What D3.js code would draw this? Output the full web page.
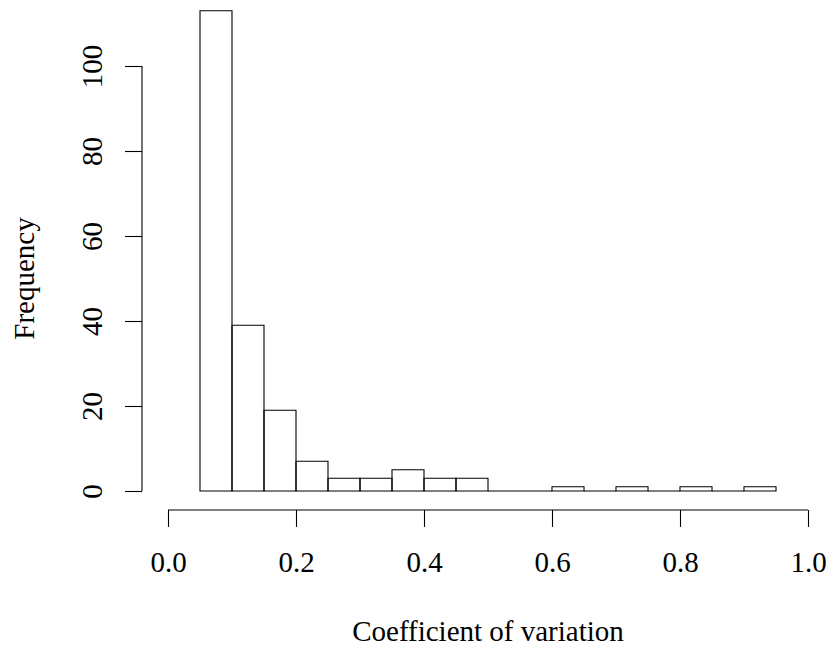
<!DOCTYPE html>
<html>
<head>
<meta charset="utf-8">
<script src="https://cdn.jsdelivr.net/npm/d3@7"></script>
<style>
  html, body { margin: 0; padding: 0; background: #fff; }
  svg text { font-family: 'Liberation Serif', 'DejaVu Serif', serif; fill: #000; }
</style>
</head>
<body>
<svg id="chart" width="829" height="651"></svg>
<script>
// histogram bins (left edges) and counts
const binStarts = [0.05, 0.10, 0.15, 0.20, 0.25, 0.30, 0.35, 0.40, 0.45, 0.50, 0.55, 0.60, 0.65, 0.70, 0.75, 0.80, 0.85, 0.90]
const counts = [113, 39, 19, 7, 3, 3, 5, 3, 3, 0, 0, 1, 0, 1, 0, 1, 0, 1]
const binWidth = 0.05
const xTicks = [0.0, 0.2, 0.4, 0.6, 0.8, 1.0]
const yTicks = [0, 20, 40, 60, 80, 100]

const svg = d3.select('#chart')
const x = d3.scaleLinear().domain([0, 1]).range([168, 808])
const y = d3.scaleLinear().domain([0, 100]).range([491, 66])

const bins = binStarts.map((b, i) => ({ x0: b, x1: b + binWidth, n: counts[i] }))

// bars as closed paths so empty bins still show as a line on the baseline
svg.append('g')
  .selectAll('path')
  .data(bins)
  .enter()
  .append('path')
  .attr('d', d => {
    const p = d3.path()
    p.rect(x(d.x0), y(d.n), x(d.x1) - x(d.x0), y(0) - y(d.n))
    return p.toString()
  })
  .attr('fill', 'none')
  .attr('stroke', '#000')
  .attr('stroke-width', 1.1)

// x axis, R style: line from first to last tick, labels below
const xAxis = svg.append('g')
  .attr('transform', 'translate(0,510)')
  .call(d3.axisBottom(x).tickValues(xTicks).tickFormat(d3.format('.1f')).tickSize(17).tickSizeOuter(0))
xAxis.select('.domain').remove()
xAxis.append('line')
  .attr('x1', x(0)).attr('x2', x(1))
  .attr('stroke', '#000').attr('stroke-width', 1.1)
xAxis.selectAll('.tick line').attr('stroke-width', 1.1)
xAxis.selectAll('.tick text')
  .attr('y', 62)
  .attr('dy', null)
  .style('font-size', '29px')
  .style('font-family', "'Liberation Serif', serif")

// y axis, labels rotated
const yAxis = svg.append('g')
  .attr('transform', 'translate(142,0)')
  .call(d3.axisLeft(y).tickValues(yTicks).tickSize(17).tickSizeOuter(0))
yAxis.select('.domain').remove()
yAxis.append('line')
  .attr('y1', y(0)).attr('y2', y(100))
  .attr('stroke', '#000').attr('stroke-width', 1.1)
yAxis.selectAll('.tick line').attr('stroke-width', 1.1)
yAxis.selectAll('.tick text')
  .attr('x', null)
  .attr('dy', null)
  .attr('transform', 'translate(-40,0) rotate(-90)')
  .attr('text-anchor', 'middle')
  .style('font-size', '29px')
  .style('font-family', "'Liberation Serif', serif")

svg.append('text')
  .attr('x', (x(0) + x(1)) / 2)
  .attr('y', 641)
  .attr('text-anchor', 'middle')
  .style('font-size', '29px')
  .text('Coefficient of variation')

svg.append('text')
  .attr('transform', `translate(34,${(y(0) + y(100)) / 2}) rotate(-90)`)
  .attr('text-anchor', 'middle')
  .style('font-size', '29px')
  .text('Frequency')
</script>
</body>
</html>
